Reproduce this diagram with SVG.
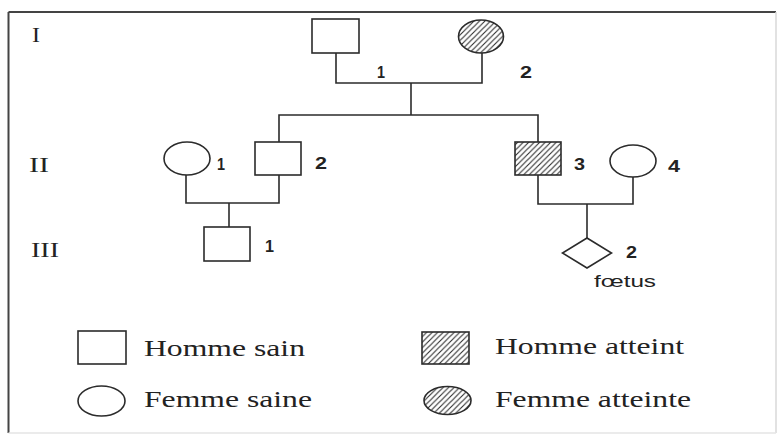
<svg xmlns="http://www.w3.org/2000/svg" width="779" height="436" viewBox="0 0 779 436">
  <style>
    .shape { fill: #ffffff; stroke: #2b2b2b; stroke-width: 1.6; }
    .hatch { fill: url(#hatch); stroke: #2b2b2b; stroke-width: 1.6; }
    .conn { fill: none; stroke: #2b2b2b; stroke-width: 1.6; }
    .num { font-family: "Liberation Sans", Arial, sans-serif; font-weight: bold; font-size: 16px; fill: #222; }
    .gen { font-family: "Liberation Serif", "Times New Roman", serif; font-size: 22px; fill: #222; }
    .leg { font-family: "Liberation Serif", "Times New Roman", serif; font-size: 23px; fill: #222; }
    .lbl { font-family: "Liberation Sans", Arial, sans-serif; font-size: 16px; fill: #222; }
  </style>
  <defs>
    <pattern id="hatch" patternUnits="userSpaceOnUse" width="5.5" height="5.5">
      <rect width="5.5" height="5.5" fill="#ffffff"/>
      <path d="M-1,1 L1,-1 M0,5.5 L5.5,0 M4.5,6.5 L6.5,4.5" stroke="#2b2b2b" stroke-width="1.1"/>
    </pattern>
  </defs>

  <rect x="0" y="0" width="779" height="436" fill="#ffffff"/>

  <g id="frame">
    <line x1="8.5" y1="12" x2="776" y2="12" stroke="#444" stroke-width="2"/>
    <line x1="8.5" y1="12" x2="8.5" y2="433" stroke="#444" stroke-width="2"/>
    <line x1="776" y1="12" x2="776" y2="433" stroke="#d8d8d8" stroke-width="1.5"/>
    <line x1="8.5" y1="433" x2="776" y2="433" stroke="#e4e4e4" stroke-width="1.5"/>
  </g>

  <g id="generations">
    <text class="gen" x="32" y="42" textLength="8" lengthAdjust="spacingAndGlyphs">I</text>
    <text class="gen" x="29" y="172" textLength="20" lengthAdjust="spacingAndGlyphs">II</text>
    <text class="gen" x="31" y="257" textLength="28" lengthAdjust="spacingAndGlyphs">III</text>
  </g>

  <g id="connectors">
    <polyline class="conn" points="336,53 336,83 482,83 482,53"/>
    <polyline class="conn" points="411,83 411,115"/>
    <polyline class="conn" points="279,142 279,115 538,115 538,142"/>
    <polyline class="conn" points="186,175 186,203 279,203 279,175"/>
    <polyline class="conn" points="229,203 229,227"/>
    <polyline class="conn" points="538,175 538,204 633,204 633,177"/>
    <polyline class="conn" points="587,204 587,238"/>
  </g>

  <g id="I-1">
    <rect class="shape" x="312" y="19" width="47" height="34"/>
    <text class="num" x="377" y="78" textLength="8" lengthAdjust="spacingAndGlyphs">1</text>
  </g>
  <g id="I-2">
    <ellipse class="hatch" cx="481" cy="36.5" rx="22.5" ry="16.5"/>
    <text class="num" x="520" y="78" textLength="12" lengthAdjust="spacingAndGlyphs">2</text>
  </g>
  <g id="II-1">
    <ellipse class="shape" cx="187" cy="158.5" rx="23" ry="16.5"/>
    <text class="num" x="217" y="170" textLength="8" lengthAdjust="spacingAndGlyphs">1</text>
  </g>
  <g id="II-2">
    <rect class="shape" x="255" y="142" width="46" height="33"/>
    <text class="num" x="315" y="169" textLength="12" lengthAdjust="spacingAndGlyphs">2</text>
  </g>
  <g id="II-3">
    <rect class="hatch" x="515" y="142" width="46" height="33"/>
    <text class="num" x="574" y="170" textLength="11" lengthAdjust="spacingAndGlyphs">3</text>
  </g>
  <g id="II-4">
    <ellipse class="shape" cx="633" cy="161" rx="23" ry="16"/>
    <text class="num" x="668" y="172" textLength="12" lengthAdjust="spacingAndGlyphs">4</text>
  </g>
  <g id="III-1">
    <rect class="shape" x="204" y="227" width="46" height="34"/>
    <text class="num" x="265" y="252" textLength="9" lengthAdjust="spacingAndGlyphs">1</text>
  </g>
  <g id="III-2">
    <polygon class="shape" points="587,238 611.5,253 587,268 562.5,253"/>
    <text class="num" x="626" y="258" textLength="11" lengthAdjust="spacingAndGlyphs">2</text>
    <text class="lbl" x="594" y="287" textLength="62" lengthAdjust="spacingAndGlyphs">fœtus</text>
  </g>

  <g id="legend">
    <g id="legend-homme-sain">
      <rect class="shape" x="78" y="331" width="48" height="33"/>
      <text class="leg" x="144" y="356" textLength="161" lengthAdjust="spacingAndGlyphs">Homme sain</text>
    </g>
    <g id="legend-femme-saine">
      <ellipse class="shape" cx="101.5" cy="401" rx="23.5" ry="15"/>
      <text class="leg" x="144" y="407" textLength="168" lengthAdjust="spacingAndGlyphs">Femme saine</text>
    </g>
    <g id="legend-homme-atteint">
      <rect class="hatch" x="422" y="332" width="47" height="32"/>
      <text class="leg" x="495" y="354" textLength="189" lengthAdjust="spacingAndGlyphs">Homme atteint</text>
    </g>
    <g id="legend-femme-atteinte">
      <ellipse class="hatch" cx="447.5" cy="400.5" rx="23.5" ry="14"/>
      <text class="leg" x="495" y="407" textLength="196" lengthAdjust="spacingAndGlyphs">Femme atteinte</text>
    </g>
  </g>
</svg>
